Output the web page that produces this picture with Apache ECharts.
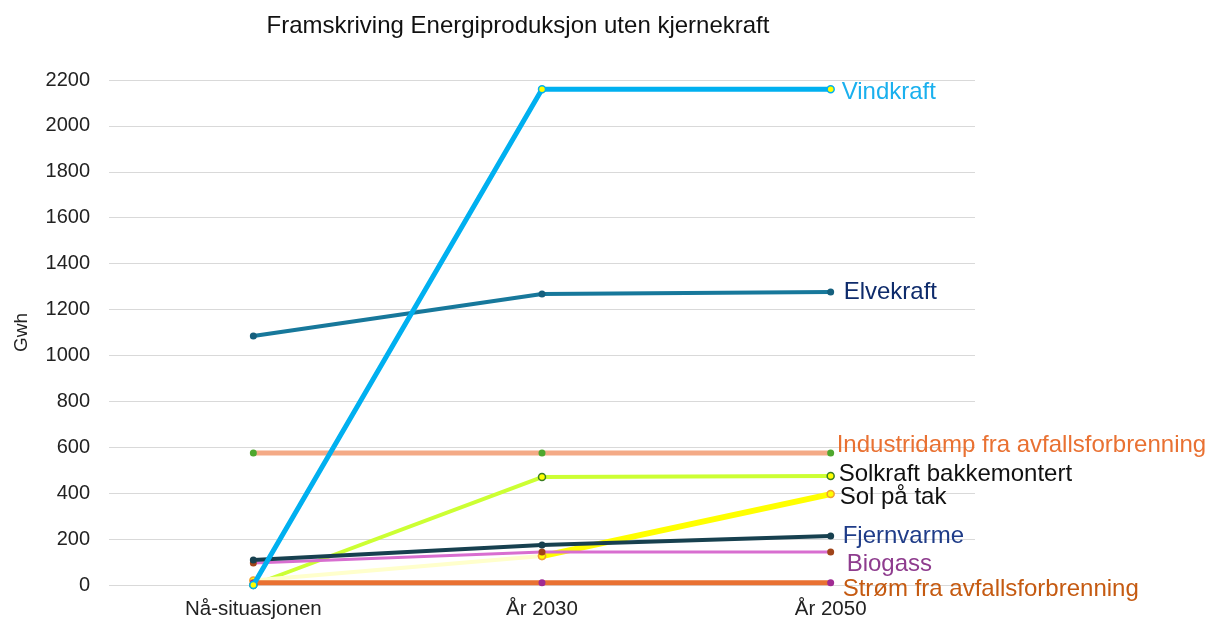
<!DOCTYPE html>
<html>
<head>
<meta charset="utf-8">
<script src="https://cdn.jsdelivr.net/npm/echarts@6/dist/echarts.min.js"></script>
<style>
  html, body { margin: 0; padding: 0; background: #fff; }
  #chart { width: 1211px; height: 623px; }
</style>
</head>
<body>
<div id="chart"></div>
<script>
var categories = ['Nå-situasjonen', 'År 2030', 'År 2050'];
var yTicks = [0, 200, 400, 600, 800, 1000, 1200, 1400, 1600, 1800, 2000, 2200];

var vindkraft = [0, 2160, 2160];
var elvekraft = [1085, 1268, 1276];
var industridamp = [575, 575, 575];
var solkraftBakke = [0, 470, 475];
var solPaTak = [20, 126, 396];
var fjernvarme = [109, 174, 213];
var biogass = [96, 144, 144];
var stromAvfall = [10, 10, 10];

var font = 'Liberation Sans, Arial, sans-serif';
var chart = echarts.init(document.getElementById('chart'));

function line(name, data, color, width, marker, label) {
	return {
		name: name,
		type: 'line',
		data: data,
		symbol: 'circle',
		symbolSize: marker.size || 7,
		showAllSymbol: true,
		lineStyle: { color: color, width: width },
		itemStyle: { color: marker.fill, borderColor: marker.border || marker.fill, borderWidth: marker.bw || 0 },
		endLabel: label ? {
			show: true,
			formatter: label.text || name,
			color: label.color,
			fontSize: 24,
			fontFamily: font,
			distance: label.dist || 10,
			offset: label.offset || [0, 0]
		} : { show: false },
		emphasis: { disabled: true },
		animation: false,
		z: marker.z || 2
	};
}

// Sol på tak: pale first segment, bright second segment
var solA = [solPaTak[0], solPaTak[1], null];
var solB = [null, solPaTak[1], solPaTak[2]];

var option = {
	backgroundColor: '#fff',
	title: {
		text: 'Framskriving Energiproduksjon uten kjernekraft',
		left: 513,
		top: 9,
		textAlign: 'center',
		textStyle: { fontFamily: font, fontSize: 24, fontWeight: 'normal', color: '#111' }
	},
	grid: { left: 109, right: 236, top: 80, bottom: 38 },
	xAxis: {
		type: 'category', data: categories,
		axisLine: { show: false }, axisTick: { show: false },
		axisLabel: { fontFamily: font, fontSize: 20.5, color: '#222', margin: 14 }
	},
	yAxis: {
		type: 'value', min: yTicks[0], max: yTicks[yTicks.length - 1], interval: 200,
		name: 'Gwh', nameLocation: 'middle', nameRotate: 90, nameGap: 78,
		nameTextStyle: { fontFamily: font, fontSize: 19, color: '#222' },
		axisLine: { show: false }, axisTick: { show: false },
		axisLabel: { fontFamily: font, fontSize: 20, color: '#222', margin: 19,
			formatter: function (v) { return String(v); } },
		splitLine: { lineStyle: { color: '#d9d9d9', width: 1 } }
	},
	series: [
		line('Industridamp fra avfallsforbrenning', industridamp, '#F4AA86', 5, { fill: '#4EA72E' },
			{ color: '#E97132', dist: 6, offset: [0, -8] }),
		line('Elvekraft', elvekraft, '#17789B', 4, { fill: '#15607E' },
			{ color: '#0E2B6B', dist: 13 }),
		line('Solkraft bakkemontert', solkraftBakke, '#CCFF33', 4, { fill: '#FFFF00', border: '#3A7D22', bw: 1.5 },
			{ color: '#111', dist: 8, offset: [0, -2] }),
		{
			name: 'Sol på tak', type: 'line', data: solA,
			symbol: 'circle', symbolSize: 7, lineStyle: { color: '#FFFFCC', width: 4 },
			itemStyle: { color: '#FFFF00', borderColor: '#F0A030', borderWidth: 1.5 },
			emphasis: { disabled: true }, animation: false, z: 2
		},
		line('Sol på tak', solB, '#FFFF00', 6, { fill: '#FFFF00', border: '#F0A030', bw: 1.5 },
			{ color: '#111', dist: 9, offset: [0, 3] }),
		line('Biogass', biogass, '#D86ED0', 3, { fill: '#A0441A' },
			{ color: '#8E3C8E', dist: 16, offset: [0, 12] }),
		line('Fjernvarme', fjernvarme, '#17404F', 4, { fill: '#17404F' },
			{ color: '#1F3C88', dist: 12, offset: [0, 0] }),
		line('Strøm fra avfallsforbrenning', stromAvfall, '#E97132', 5, { fill: '#A02B93' },
			{ color: '#C55A11', dist: 12, offset: [0, 7] }),
		line('Vindkraft', vindkraft, '#00B0F0', 5, { fill: '#FFFF00', border: '#00B0F0', bw: 1.5, z: 3 },
			{ color: '#1AB0EE', dist: 11, offset: [0, 3] })
	]
};

chart.setOption(option);
</script>
</body>
</html>
